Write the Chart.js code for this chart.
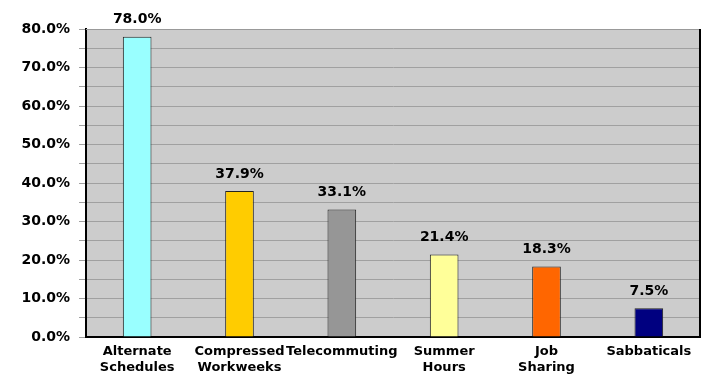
<!DOCTYPE html>
<html>
<head>
<meta charset="utf-8">
<script src="https://cdn.jsdelivr.net/npm/chart.js@4.4.1/dist/chart.umd.min.js"></script>
<style>
    html, body { margin: 0; padding: 0; background: #fff; }
    #wrap { width: 706px; height: 376px; position: relative; }
</style>
</head>
<body>
<div id="wrap"><canvas id="chart"></canvas></div>
<script>
    'use strict';

    const categories = [
        ['Alternate', 'Schedules'],
        ['Compressed', 'Workweeks'],
        'Telecommuting',
        ['Summer', 'Hours'],
        ['Job', 'Sharing'],
        'Sabbaticals'
    ];
    const shares = [78.0, 37.9, 33.1, 21.4, 18.3, 7.5];
    const barColors = ['#99FFFF', '#FFCC00', '#969696', '#FFFF99', '#FF6600', '#000080'];
    const yMin = 0;
    const yMax = 80;
    const yStep = 5;

    const FONT = '"DejaVu Sans", "Liberation Sans", Arial, sans-serif';

    // grey plot background plus the frame round it
    const plotFrame = {
        id: 'plotFrame',
        beforeDraw(chart) {
            const { ctx, chartArea: a } = chart;
            ctx.save();
            ctx.fillStyle = '#CCCCCC';
            ctx.fillRect(a.left, a.top, a.right - a.left, a.bottom - a.top);
            ctx.restore();
        },
        afterDraw(chart) {
            const { ctx, chartArea: a } = chart;
            ctx.save();
            ctx.strokeStyle = '#999999';
            ctx.lineWidth = 1;
            ctx.beginPath();
            ctx.moveTo(a.left, a.top + 0.5);
            ctx.lineTo(a.right, a.top + 0.5);
            ctx.stroke();
            ctx.strokeStyle = '#000';
            ctx.lineWidth = 2;
            ctx.beginPath();
            ctx.moveTo(a.right, a.top);
            ctx.lineTo(a.right, a.bottom + 1);
            ctx.stroke();
            ctx.restore();
        }
    };

    // value printed above each bar
    const barValues = {
        id: 'barValues',
        afterDatasetsDraw(chart) {
            const { ctx } = chart;
            const meta = chart.getDatasetMeta(0);
            ctx.save();
            ctx.fillStyle = '#000';
            ctx.font = 'bold 14px ' + FONT;
            ctx.textAlign = 'center';
            ctx.textBaseline = 'middle';
            meta.data.forEach((bar, i) => {
                const y = Math.max(15, bar.y - 17);
                ctx.fillText(shares[i].toFixed(1) + '%', bar.x, y);
            });
            ctx.restore();
        }
    };

    new Chart(document.getElementById('chart'), {
        type: 'bar',
        data: {
            labels: categories,
            datasets: [{
                data: shares,
                backgroundColor: barColors,
                borderColor: '#222',
                borderWidth: 1,
                barPercentage: 0.56,
                categoryPercentage: 0.5
            }]
        },
        options: {
            responsive: true,
            maintainAspectRatio: false,
            animation: false,
            layout: {
                padding: { top: 29, right: 6, left: 0, bottom: 0 }
            },
            plugins: {
                legend: { display: false },
                tooltip: { enabled: false }
            },
            scales: {
                x: {
                    grid: { display: false },
                    border: { color: '#000', width: 2 },
                    ticks: {
                        color: '#000',
                        font: { family: FONT, size: 13, weight: 'bold', lineHeight: 1.25 },
                        maxRotation: 0,
                        autoSkip: false,
                        padding: -2
                    },
                    afterFit(scale) { scale.height = 39; }
                },
                y: {
                    min: yMin,
                    max: yMax,
                    grid: {
                        color: '#A0A0A0',
                        lineWidth: 1,
                        tickLength: 7,
                        tickColor: '#A0A0A0'
                    },
                    border: { color: '#000', width: 2 },
                    ticks: {
                        stepSize: yStep,
                        autoSkip: false,
                        color: '#000',
                        padding: 9,
                        font: { family: FONT, size: 14, weight: 'bold' },
                        callback: (v) => (v % 10 === 0 ? v.toFixed(1) + '%' : '')
                    },
                    afterFit(scale) { scale.width = 86; }
                }
            }
        },
        plugins: [plotFrame, barValues]
    });
</script>
</body>
</html>
